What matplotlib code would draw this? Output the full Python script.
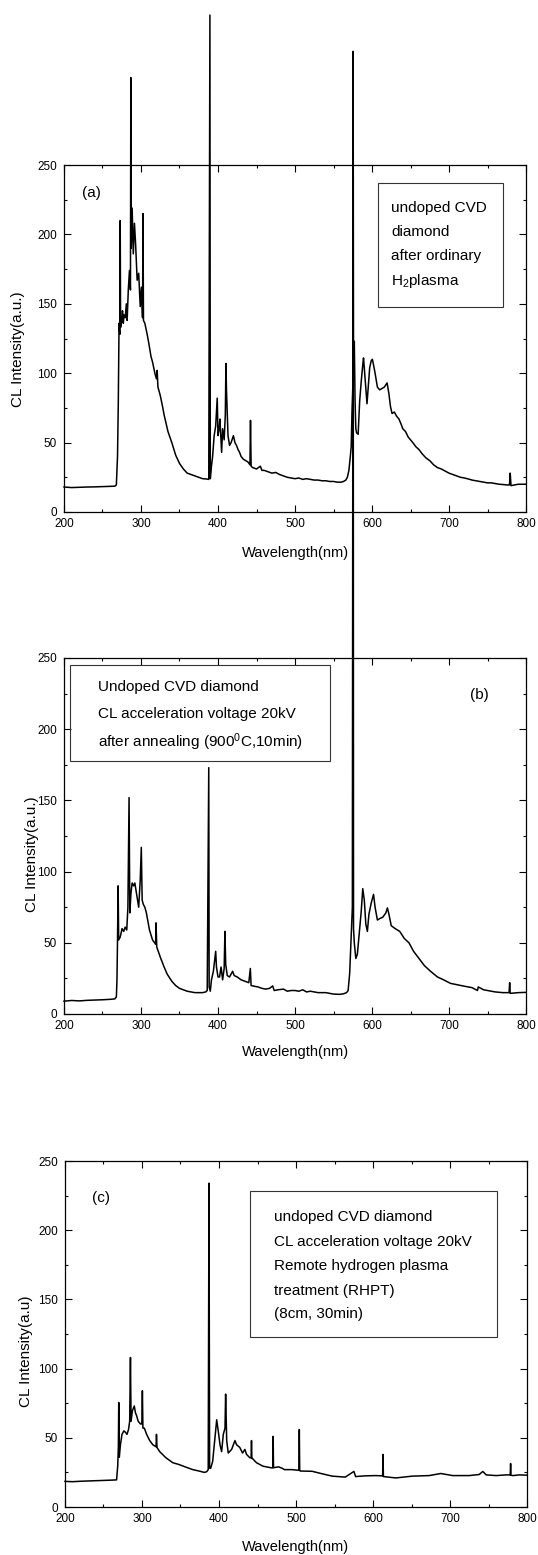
import matplotlib
matplotlib.use("Agg")
import matplotlib.pyplot as plt
from matplotlib.ticker import MultipleLocator
from matplotlib.patches import Rectangle

plt.rcParams['font.family'] = ['Liberation Sans', 'DejaVu Sans']
plt.rcParams['mathtext.fontset'] = 'custom'
plt.rcParams['mathtext.rm'] = 'Liberation Sans'
plt.rcParams['mathtext.it'] = 'Liberation Sans:italic'

# ---------------- data ----------------
x_ticks = [200, 300, 400, 500, 600, 700, 800]
y_ticks = [0, 50, 100, 150, 200, 250]

wl_a = [200, 210, 220, 230, 240, 250, 260, 266, 268, 269.5, 270.5, 271.5, 272.5, 273, 273.5, 275, 276, 277,
        278, 279.5, 281, 282, 283.5, 285, 286.3, 286.8, 287.3, 288.5, 290, 291.5, 293, 295, 297, 299, 300.5,
        302, 302.6, 303.2, 305, 308, 310, 313, 315, 318, 320, 321, 322, 325, 328, 330, 335, 340, 345, 350,
        355, 360, 365, 370, 375, 380, 385, 388, 389.5, 390, 391.5, 393, 395, 397, 399, 400, 401.5, 402.5,
        404.7, 406, 408, 409.5, 410.3, 411, 413, 415, 417, 420, 422, 424, 426, 428, 430, 433, 436, 439,
        441.5, 442.2, 443, 445, 450, 455, 457, 460, 465, 470, 475, 480, 485, 490, 495, 500, 505, 510, 515,
        520, 525, 530, 535, 540, 545, 550, 555, 560, 563, 566, 568, 570, 571.5, 573, 574, 575, 575.5, 576,
        577, 578, 579, 580, 582, 584, 586, 588, 589, 591, 593.5, 595, 597, 599, 600.5, 602, 604, 607, 610,
        613, 616, 619.6, 622, 624, 626, 629, 632, 635, 638, 640, 643.5, 647, 650, 653, 657, 661, 665, 670,
        675, 680, 685, 690, 695, 700, 705, 710, 715, 720, 725, 730, 735, 740, 745, 750, 755, 760, 765, 770,
        775, 778.5, 779.5, 780.5, 785, 790, 795, 800]
cl_a = [18.0, 17.6, 17.8, 18.0, 18.1, 18.3, 18.5, 18.6, 19.5, 40, 78, 136, 128, 210, 133, 138, 145, 136,
        142, 140, 150, 138, 160, 174, 160, 313, 190, 219, 186, 208, 193, 167, 172, 148, 162,
        140, 215, 138, 136, 128, 122, 112, 108, 100, 96, 102, 90, 84, 76, 70, 58, 50, 41, 35,
        31, 28, 27, 26, 25, 24, 23.8, 23.5, 358, 24, 33, 40, 55, 62, 82, 55, 60, 67,
        43, 60, 52, 70, 107, 88, 55, 48, 50, 55, 50, 48, 45, 43, 40, 38, 37, 36,
        34, 66, 33, 32, 31, 33, 30, 30, 29, 28, 28.5, 27, 26, 25, 24.5, 24, 24.5, 23.5, 24,
        23.5, 23, 23, 22.5, 22.5, 22, 22, 21.5, 21.5, 22, 23, 25, 30, 38, 47, 72, 89, 331, 100,
        123, 80, 60, 57, 56, 80, 94, 106, 111, 96, 78, 89, 104, 109, 110, 106, 100, 90, 88,
        89, 90, 93, 85, 76, 71, 72, 69, 67, 63, 60, 58, 54, 52, 50, 47, 45, 42, 39,
        37, 34, 32, 31, 29.5, 28, 27, 26, 25, 24.5, 23.8, 23, 22.5, 22, 21.5, 21, 21, 20.5, 20, 19.8,
        19.5, 19.5, 28, 19, 19.5, 20, 20, 20]

wl_b = [200, 210, 220, 230, 240, 250, 260, 266, 268, 268.8, 269.5, 270.3, 271, 273, 275.4, 277.5, 279.5,
        281.5, 283, 284.5, 285.5, 287, 288.5, 290.5, 292, 294, 295.5, 297, 299, 300.4, 301.5, 303, 305, 307,
        311, 315, 319, 319.5, 320.5, 325, 330, 334, 340, 345, 350, 355, 360, 365, 370, 375, 380, 384, 386,
        388, 388.5, 390, 391.5, 394, 397, 398, 400, 402, 404, 406, 408, 409, 410, 412, 415, 417, 419,
        421, 425, 430, 435, 440, 442, 443, 447, 452, 457, 462, 467, 471, 473, 478, 485, 490, 495, 500,
        505, 510, 515, 520, 530, 540, 550, 558, 563, 567, 569, 571, 573, 574.5, 575.5, 576, 577, 579, 581,
        583, 586, 588, 590, 592, 594, 596, 599, 602, 604, 607, 610, 614, 618, 620, 622, 625, 630, 636,
        642, 648, 654, 661, 668, 676, 685, 693, 702, 711, 720, 730, 737, 738, 745, 750, 760, 770, 778,
        778.8, 779.5, 790, 800]
cl_b = [9.0, 9.5, 9.2, 9.6, 9.8, 10.0, 10.3, 10.6, 12, 24, 52, 90, 52, 54, 60, 58, 61,
        59, 75, 152, 71, 85, 92, 90, 92, 85, 80, 75, 94, 117, 80, 77, 75, 71,
        59, 52, 49, 64, 47, 40, 33, 28, 23, 20, 18, 17, 16, 15.5, 15, 15, 15, 15.5, 16.5,
        173, 19, 16, 24, 30, 44, 33, 26, 26, 33, 24, 32, 58, 35, 27, 26, 28, 30,
        27, 26, 24, 23, 22, 32, 20, 19.5, 19, 18, 17.5, 18, 19.7, 16.5, 17, 17.5, 16, 16.5, 16.5,
        16, 17, 15.5, 16, 15, 15, 14, 13.8, 14.2, 15, 16.5, 28.5, 56, 75, 676, 60, 50, 39, 42,
        54, 72, 88, 80, 63, 58, 70, 78, 84, 75, 66, 67, 68, 71, 74.5, 70, 62, 60, 58,
        53, 50, 44, 39, 34, 30, 26, 24, 21.5, 20.5, 19.5, 18.5, 16.5, 19, 17, 16.5, 15.5, 15, 15,
        22, 14.5, 15, 15.2]

wl_c = [200, 210, 220, 230, 240, 250, 260, 267, 268.5, 269.3, 269.8, 270.5, 272, 274, 276.5, 278.5, 280.5,
        282.5, 284, 285, 285.8, 287.5, 290, 291.5, 293, 295, 298, 299.8, 300.5, 301.2, 303, 306, 310, 314,
        318.3, 318.8, 319.5, 323, 331, 340, 348, 357, 366, 374, 381, 384, 386, 387, 387.8, 389.2, 391.8,
        394.4, 397, 399, 401.3, 403.4, 405.6, 407.8, 408.6, 410, 412, 416.4, 420.7, 422.8, 427, 430.6,
        433.6, 435.8, 440, 441.7, 442.2, 442.7, 443.5, 448.7, 457, 468, 469.8, 470.3, 470.8, 477.4, 482,
        485, 494.8, 503.8, 504.3, 504.8, 505.7, 520.9, 534, 547, 564, 575.2, 577.4, 590, 603.5, 612.5,
        613, 613.5, 629.6, 651, 673, 688, 703.5, 725, 738, 742.6, 747, 760, 773, 778.2, 778.7, 779.2,
        781.7, 790, 800]
cl_c = [18.5, 18.3, 18.6, 18.8, 19.0, 19.2, 19.4, 19.6, 30, 43, 75.5, 36, 45, 52.5, 55, 54, 52.5,
        56, 62, 108, 62, 69.5, 73, 68, 66, 62, 60, 60, 84, 57, 57, 52.5, 48, 45,
        43.5, 52.5, 43, 40, 35.6, 32, 30.7, 28.8, 27, 26, 25, 25.5, 27, 234, 28, 28, 33,
        48, 63, 55, 45, 40, 52.5, 57, 81.6, 48, 39, 41.6, 48, 45, 43, 39,
        41.6, 38, 35.6, 35.5, 48, 35, 35, 32, 29.5, 28.3, 28.3, 51, 28.4, 29, 28,
        27, 27, 26.5, 56, 26.3, 26, 25.8, 24, 22.3, 21.6, 25.7, 22, 22.5, 22.7, 22.5,
        38, 22, 21, 22.3, 22.7, 24.2, 22.7, 22.7, 23.5, 25.7, 23.2, 22.7, 23.2, 23.2, 31.4, 23,
        22.7, 23.2, 23]

panel_tags = ["(a)", "(b)", "(c)"]
info_a = ["undoped CVD", "diamond", "after ordinary", "H$_{\\mathrm{2}}$plasma"]
info_b = ["Undoped CVD diamond", "CL acceleration voltage 20kV",
          "after annealing (900$^{\\mathrm{0}}$C,10min)"]
info_c = ["undoped CVD diamond", "CL acceleration voltage 20kV", "Remote hydrogen plasma",
          "treatment (RHPT)", "(8cm, 30min)"]
ylabels = ["CL Intensity(a.u.)", "CL Intensity(a.u.)", "CL Intensity(a.u)"]
xlabel = "Wavelength(nm)"

# ---------------- layout ----------------
W, H = 538, 1555
fig = plt.figure(figsize=(W / 100, H / 100), dpi=100)


def make_axes(l, r, t, b):
    return fig.add_axes([l / W, 1 - b / H, (r - l) / W, (b - t) / H])


panels = [
    dict(box=(64, 526, 165, 512), wl=wl_a, cl=cl_a, tag=(0.06, 0.919),
         rect=(0.679, 0.592, 0.950, 0.947), tx=0.708, ty=[0.876, 0.807, 0.738, 0.666], info=info_a,
         ylc=(-0.084, 0.47), xpad=11.5),
    dict(box=(64, 526, 658, 1014), wl=wl_b, cl=cl_b, tag=(0.90, 0.896),
         rect=(0.014, 0.711, 0.576, 0.980), tx=0.073, ty=[0.919, 0.843, 0.764], info=info_b,
         ylc=(-0.055, 0.45), xpad=9.5),
    dict(box=(65, 527, 1161, 1507), wl=wl_c, cl=cl_c, tag=(0.078, 0.893),
         rect=(0.40, 0.491, 0.934, 0.913), tx=0.453, ty=[0.838, 0.766, 0.697, 0.624, 0.558], info=info_c,
         ylc=(-0.070, 0.45), xpad=11),
]

for i, p in enumerate(panels):
    ax = make_axes(*p['box'])
    ax.plot(p['wl'], p['cl'], color='black', lw=1.1, clip_on=False, zorder=3)
    ax.set_xlim(200, 800)
    ax.set_ylim(0, 250)
    ax.set_xticks(x_ticks)
    ax.set_yticks(y_ticks)
    ax.xaxis.set_minor_locator(MultipleLocator(50))
    ax.yaxis.set_minor_locator(MultipleLocator(25))
    ax.tick_params(which='both', direction='in', top=True, right=True, width=0.8, labelsize=8.5)
    ax.tick_params(which='major', length=5)
    ax.tick_params(which='minor', length=2.5)
    ax.tick_params(axis='x', pad=4)
    ax.tick_params(axis='y', pad=5)
    for s in ax.spines.values():
        s.set_linewidth(0.9)
    ax.set_xlabel(xlabel, fontsize=10.5, labelpad=p['xpad'])
    ax.set_ylabel(ylabels[i], fontsize=11)
    ax.yaxis.set_label_coords(*p['ylc'])
    ax.text(p['tag'][0], p['tag'][1], panel_tags[i], transform=ax.transAxes, fontsize=11,
            ha='center', va='center')
    x0, y0, x1, y1 = p['rect']
    ax.add_patch(Rectangle((x0, y0), x1 - x0, y1 - y0, transform=ax.transAxes, fill=False,
                           lw=0.8, edgecolor='#333333', zorder=4))
    for line, yy in zip(p['info'], p['ty']):
        ax.text(p['tx'], yy, line, transform=ax.transAxes, fontsize=11, ha='left', va='center')

fig.savefig("out.png", dpi=100)
